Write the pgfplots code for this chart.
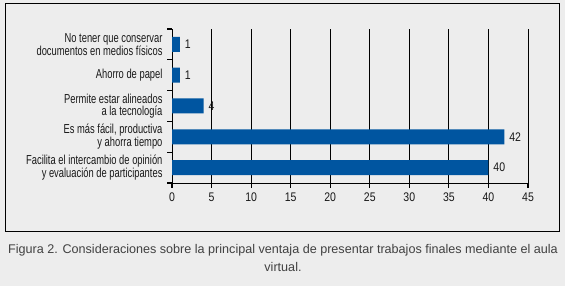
\documentclass[border=0pt]{standalone}
\usepackage{fontspec}
\setmainfont{Liberation Sans}
\newfontfamily\cond[FakeStretch=0.72]{Liberation Sans}
\newfontfamily\condnum[FakeStretch=0.84]{Liberation Sans}
\usepackage{pgfplots}
\pgfplotsset{compat=1.18}
\definecolor{bg}{RGB}{237,237,237}
\definecolor{barblue}{RGB}{0,85,160}
\definecolor{txt}{RGB}{25,25,25}
\definecolor{cap}{RGB}{65,65,65}
\begin{document}
\begin{tikzpicture}[x=1pt,y=1pt]
\useasboundingbox (0,0) rectangle (565,286);
\fill[bg] (0,0) rectangle (565,286);
\draw[black,line width=1pt] (5,54) rectangle (559,282);
\begin{axis}[
  at={(172pt,103pt)}, anchor=south west,
  scale only axis, width=356pt, height=154pt,
  xmin=0, xmax=45, ymin=0.5, ymax=5.5,
  axis x line*=bottom, axis y line*=left,
  axis line style={black, line width=0.9pt, -},
  xtick={0,5,...,45},
  ytick={0.5,1.5,2.5,3.5,4.5,5.5},
  yticklabels={},
  extra y ticks={1,2,3,4,5},
  extra y tick style={major tick length=0pt, grid=none},
  extra y tick labels={{Facilita el intercambio de opinión\\y evaluación de participantes},{Es más fácil, productiva\\y ahorra tiempo},{Permite estar alineados\\a la tecnología},{Ahorro de papel},{No tener que conservar\\documentos en medios físicos}},
  tick align=outside,
  major tick length=5pt,
  tick style={black, line width=1.1pt},
  xmajorgrids, grid style={black, line width=0.9pt},
  /pgf/number format/assume math mode=true,
  xticklabel style={font=\condnum\fontsize{12.5}{12}\selectfont, text=txt, yshift=-1pt},
  yticklabel style={font=\cond\fontsize{13}{11.5}\selectfont, text=txt, align=right, xshift=-6pt},
  xbar, bar width=15pt,
  nodes near coords,
  nodes near coords style={font=\condnum\fontsize{12.5}{12}\selectfont, text=txt, anchor=west, xshift=1.5pt},
  clip=false,
]
\addplot[fill=barblue, draw=none] coordinates {(40,1) (42,2) (4,3) (1,4) (1,5)};
\end{axis}
\node[text=cap, font=\fontsize{12.6}{18}\selectfont, align=center] at (283,28) {Figura 2. Consideraciones sobre la principal ventaja de presentar trabajos finales mediante el aula\\virtual.};
\end{tikzpicture}
\end{document}
